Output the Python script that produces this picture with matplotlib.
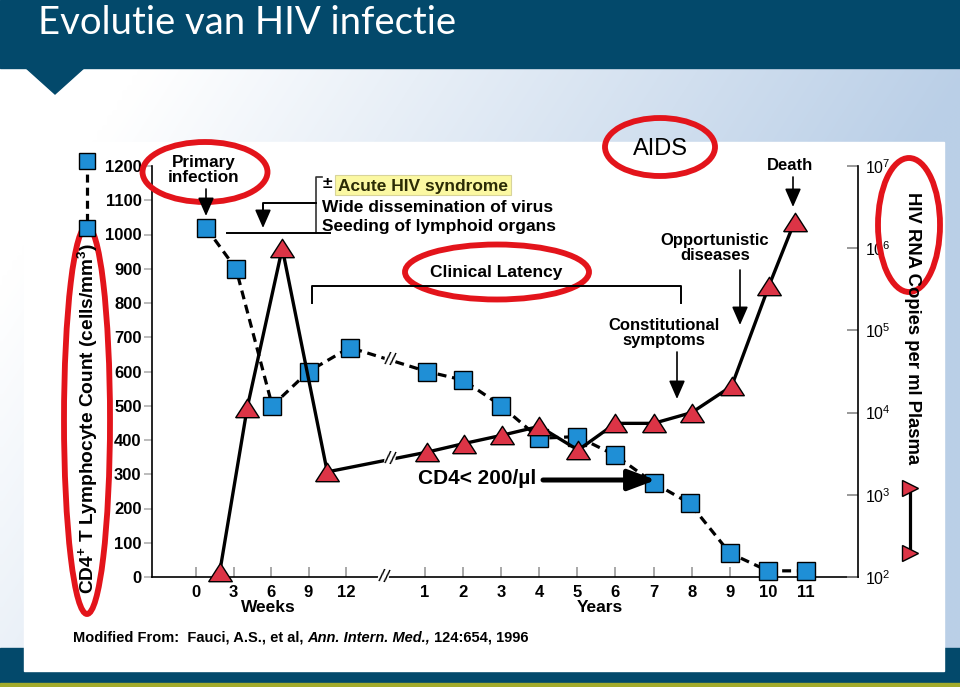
import numpy as np
import matplotlib
matplotlib.use("Agg")
import matplotlib.pyplot as plt
from matplotlib.patches import Ellipse, Rectangle, Polygon
from matplotlib.ticker import NullLocator

plt.rcParams['font.family'] = ['Liberation Sans', 'DejaVu Sans']
plt.rcParams['mathtext.fontset'] = 'custom'
plt.rcParams['mathtext.rm'] = 'Liberation Sans'
plt.rcParams['mathtext.bf'] = 'Liberation Sans:bold'
plt.rcParams['mathtext.it'] = 'Liberation Sans:italic'

# ---------------- data ----------------
week_ticks = [0, 3, 6, 9, 12]
year_ticks = [1, 2, 3, 4, 5, 6, 7, 8, 9, 10, 11]
cd4_ticks = [0, 100, 200, 300, 400, 500, 600, 700, 800, 900, 1000, 1100, 1200]
rna_ticks = [1e2, 1e3, 1e4, 1e5, 1e6, 1e7]

cd4_weeks = [0.8, 3.2, 6.1, 9.0, 12.3]
cd4_week_counts = [1020, 900, 500, 600, 670]
cd4_years = [1.05, 2, 3, 4, 5, 6, 7, 7.95, 9, 10, 11]
cd4_year_counts = [600, 575, 500, 405, 410, 355, 275, 215, 70, 18, 18]

rna_weeks = [1.9, 4.1, 6.9, 10.5]
rna_week_copies = [115, 11500, 1.0e6, 1900]
rna_years = [1.05, 2.02, 3.02, 4, 5.02, 6, 7, 8, 9.05, 10.03, 10.7]
rna_year_copies = [3300, 4200, 5300, 6800, 3500, 7400, 7400, 10000, 21000, 350000, 2100000]


def week_pos(w):
    return np.asarray(w, float) / 3.0


def year_pos(y):
    return 5.09 + 1.016 * np.asarray(y, float)


cd4_x = np.concatenate([week_pos(cd4_weeks), year_pos(cd4_years)])
cd4_y = np.concatenate([cd4_week_counts, cd4_year_counts])
rna_x = np.concatenate([week_pos(rna_weeks), year_pos(rna_years)])
rna_y = np.concatenate([rna_week_copies, rna_year_copies])

HDR = '#03496b'
OLIVE = '#a3ab2c'
RED = '#e3141b'
BLUE = '#1f8fd6'
TRI = '#dc3446'

fig = plt.figure(figsize=(9.6, 6.87), dpi=100)

# ---------------- background (pixel coords) ----------------
bg = fig.add_axes([0, 0, 1, 1], zorder=0)
bg.set_xlim(0, 960)
bg.set_ylim(687, 0)
bg.axis('off')
gx = np.linspace(0, 960, 192)
gy = np.linspace(68, 648, 116)
X, Y = np.meshgrid(gx, gy)
t = np.clip(1.15 * X / 960 - 0.17 + 0.45 * (Y - 68) / 580, 0, 1)
c0 = np.array([1.0, 1.0, 1.0])
c1 = np.array([186, 207, 231]) / 255
img = c0[None, None, :] * (1 - t[..., None]) + c1[None, None, :] * t[..., None]
bg.imshow(img, extent=(0, 960, 648, 68), aspect='auto', interpolation='bilinear', zorder=0)
bg.add_patch(Rectangle((0, 0), 960, 68, color=HDR, zorder=1))
bg.add_patch(Polygon([[25, 67], [85, 67], [55, 94]], closed=True, color=HDR, zorder=1))
bg.add_patch(Rectangle((0, 648), 960, 35, color=HDR, zorder=1))
bg.add_patch(Rectangle((0, 683), 960, 4, color=OLIVE, zorder=1))
bg.add_patch(Rectangle((24, 142), 920, 529, color='white', zorder=2))
bg.text(38, 34, 'Evolutie van HIV infectie', color='white', fontsize=27.5,
        family=['Lato', 'DejaVu Sans'], va='baseline', ha='left', zorder=3)

# ---------------- chart axes ----------------
L, R, T, B = 152, 858, 166, 577
ax = fig.add_axes([L / 960, 1 - B / 687, (R - L) / 960, (B - T) / 687], zorder=1)
ax.patch.set_visible(False)
ax.set_xlim((L - 196) / 37.5, (R - 196) / 37.5)
ax.set_ylim(0, 1200)
for s in ['top', 'right']:
    ax.spines[s].set_visible(False)
for s in ['left', 'bottom']:
    ax.spines[s].set_linewidth(1.2)

ax.plot(cd4_x, cd4_y, color='black', ls=(0, (2.8, 1.8)), lw=2.3, marker='s', ms=13.5,
        mfc=BLUE, mec='black', mew=1.0, zorder=3, clip_on=False)

xt = np.concatenate([week_pos(week_ticks), year_pos(year_ticks)])
ax.set_xticks(xt)
ax.set_xticklabels([str(v) for v in week_ticks + year_ticks], fontweight='bold', fontsize=12)
ax.tick_params(axis='x', direction='in', length=7, width=1.2, color='#9a9a9a', pad=6)
ax.set_yticks(cd4_ticks)
ax.set_yticklabels([str(v) for v in cd4_ticks], fontweight='bold', fontsize=12)
ax.tick_params(axis='y', direction='out', length=6, width=1.2, color='#b0b0b0', pad=1.5)

ax2 = ax.twinx()
ax2.set_yscale('log')
ax2.set_ylim(1e2, 1e7)
for s in ['top', 'left', 'bottom']:
    ax2.spines[s].set_visible(False)
ax2.spines['right'].set_linewidth(1.2)
ax2.set_yticks(rna_ticks)
ax2.yaxis.set_minor_locator(NullLocator())
ax2.tick_params(axis='y', direction='in', length=8, width=1.2, color='#888888', labelsize=11.5, pad=5)

tri = [(-1, -0.78), (1, -0.78), (0, 0.78), (-1, -0.78)]
ax2.plot(rna_x, rna_y, color='black', lw=2.4, marker=tri, ms=17,
         mfc=TRI, mec='black', mew=1.0, zorder=3, clip_on=False)

# break marks
brk = 5.17
yb_cd4 = np.interp(brk, cd4_x, cd4_y)
yb_rna = 10 ** np.interp(brk, rna_x, np.log10(rna_y))
ybrk_cd4 = ax2.transData.inverted().transform(ax.transData.transform((brk, yb_cd4)))[1]
for (bx, by) in [(brk, ybrk_cd4), (brk, yb_rna)]:
    ax2.text(bx, by, '//', fontsize=13.5, ha='center', va='center', zorder=6, rotation=-10,
             bbox=dict(facecolor='white', edgecolor='none', pad=0.2))
ax2.text(5.0, 1e2, '//', fontsize=13.5, ha='center', va='center', zorder=6, rotation=-10,
         clip_on=False, bbox=dict(facecolor='white', edgecolor='none', pad=0.2))

# ---------------- overlay annotations (pixel coords) ----------------
ov = fig.add_axes([0, 0, 1, 1], zorder=3)
ov.set_xlim(0, 960)
ov.set_ylim(687, 0)
ov.axis('off')


def arrow(x0, y0, x1, y1, lw=1.2, hl=0.8, hw=0.35, ms=14):
    ov.annotate('', xy=(x1, y1), xytext=(x0, y0),
                arrowprops=dict(arrowstyle=f'-|>,head_length={hl},head_width={hw}', lw=lw,
                                color='black', shrinkA=0, shrinkB=0, mutation_scale=ms))


bold = dict(fontweight='bold', ha='center', va='center', color='black')

# axis titles
ov.text(268, 607, 'Weeks', fontsize=12.5, **bold)
ov.text(600, 607, 'Years', fontsize=12.5, **bold)
ov.text(88, 418, r'CD4$^{\mathbf{+}}$ T Lymphocyte Count (cells/mm$^{\mathbf{3}}$)', rotation=90,
        fontsize=13.8, **bold)
ov.text(912, 328, 'HIV RNA Copies per ml Plasma', rotation=-90, fontsize=13.3, **bold)

# legend glyphs
ov.plot([87, 87], [161, 228], color='black', ls=(0, (2.5, 1.6)), lw=2.3, marker='s', ms=12,
        mfc=BLUE, mec='black', mew=1.0)
ov.plot([910, 910], [488, 553], color='black', lw=2.3, marker='>', ms=12,
        mfc=TRI, mec='black', mew=1.0)

# primary infection
ov.text(204, 170, 'Primary\ninfection', fontsize=12.3, linespacing=1.0, **bold)
arrow(206, 189, 206, 216)

# acute syndrome bracket
ov.plot([322, 316, 316], [177, 177, 233], color='#333333', lw=1.2)
ov.plot([227, 330], [233, 233], color='black', lw=1.4)
ov.plot([316, 263, 263], [203, 203, 210], color='black', lw=1.4)
arrow(263, 205, 263, 228)
ov.add_patch(Rectangle((335, 175), 176, 20, facecolor='#fbf8a2', edgecolor='#d8d49a', lw=0.8))
ov.text(327, 184, '\u00b1', fontsize=12.5, **bold)
ov.text(338, 186, 'Acute HIV syndrome', fontsize=12.5, fontweight='bold', ha='left',
        va='center', color='#2b2b05')
ov.text(322, 207, 'Wide dissemination of virus', fontsize=12.5, fontweight='bold', ha='left',
        va='center')
ov.text(322, 226, 'Seeding of lymphoid organs', fontsize=12.5, fontweight='bold', ha='left',
        va='center')

# clinical latency
ov.text(496, 272, 'Clinical Latency', fontsize=12.5, **bold)
ov.plot([312, 312, 681, 681], [303, 286, 286, 303], color='black', lw=1.4)

# AIDS
ov.text(660, 149, 'AIDS', fontsize=17, ha='center', va='center', color='black')

# late annotations
ov.text(790, 166, 'Death', fontsize=12, **bold)
arrow(793, 177, 793, 207)
ov.text(715, 248, 'Opportunistic\ndiseases', fontsize=12, linespacing=1.05, **bold)
arrow(740, 270, 740, 325)
ov.text(664, 333, 'Constitutional\nsymptoms', fontsize=12, linespacing=1.05, **bold)
arrow(677, 352, 677, 399)

# CD4 < 200
ov.text(418, 478, 'CD4< 200/\u00b5l', fontsize=15, fontweight='bold', ha='left', va='center')
ov.annotate('', xy=(656, 480), xytext=(543, 480),
            arrowprops=dict(arrowstyle='-|>,head_length=1.2,head_width=0.45', lw=3.6,
                            color='black', shrinkA=0, shrinkB=0, mutation_scale=14))

# source
t1 = ov.text(73, 638, 'Modified From:  Fauci, A.S., et al, ', fontsize=10.5, fontweight='bold',
             ha='left', va='center')
t2 = ov.annotate('Ann. Intern. Med.,', xy=(1, 0), xycoords=t1, fontsize=10.5, fontweight='bold',
                 style='italic', ha='left', va='bottom')
ov.annotate(' 124:654, 1996', xy=(1, 0), xycoords=t2, fontsize=10.5, fontweight='bold',
            ha='left', va='bottom')

# red ellipses
for (cx, cy, w, h) in [(205, 172, 125, 60), (497, 272, 184, 55), (660, 147, 110, 58),
                       (87, 420, 46, 388), (909, 225, 62, 134)]:
    ov.add_patch(Ellipse((cx, cy), w, h, fill=False, edgecolor=RED, lw=4.2))

fig.savefig('out.png', dpi=100)
